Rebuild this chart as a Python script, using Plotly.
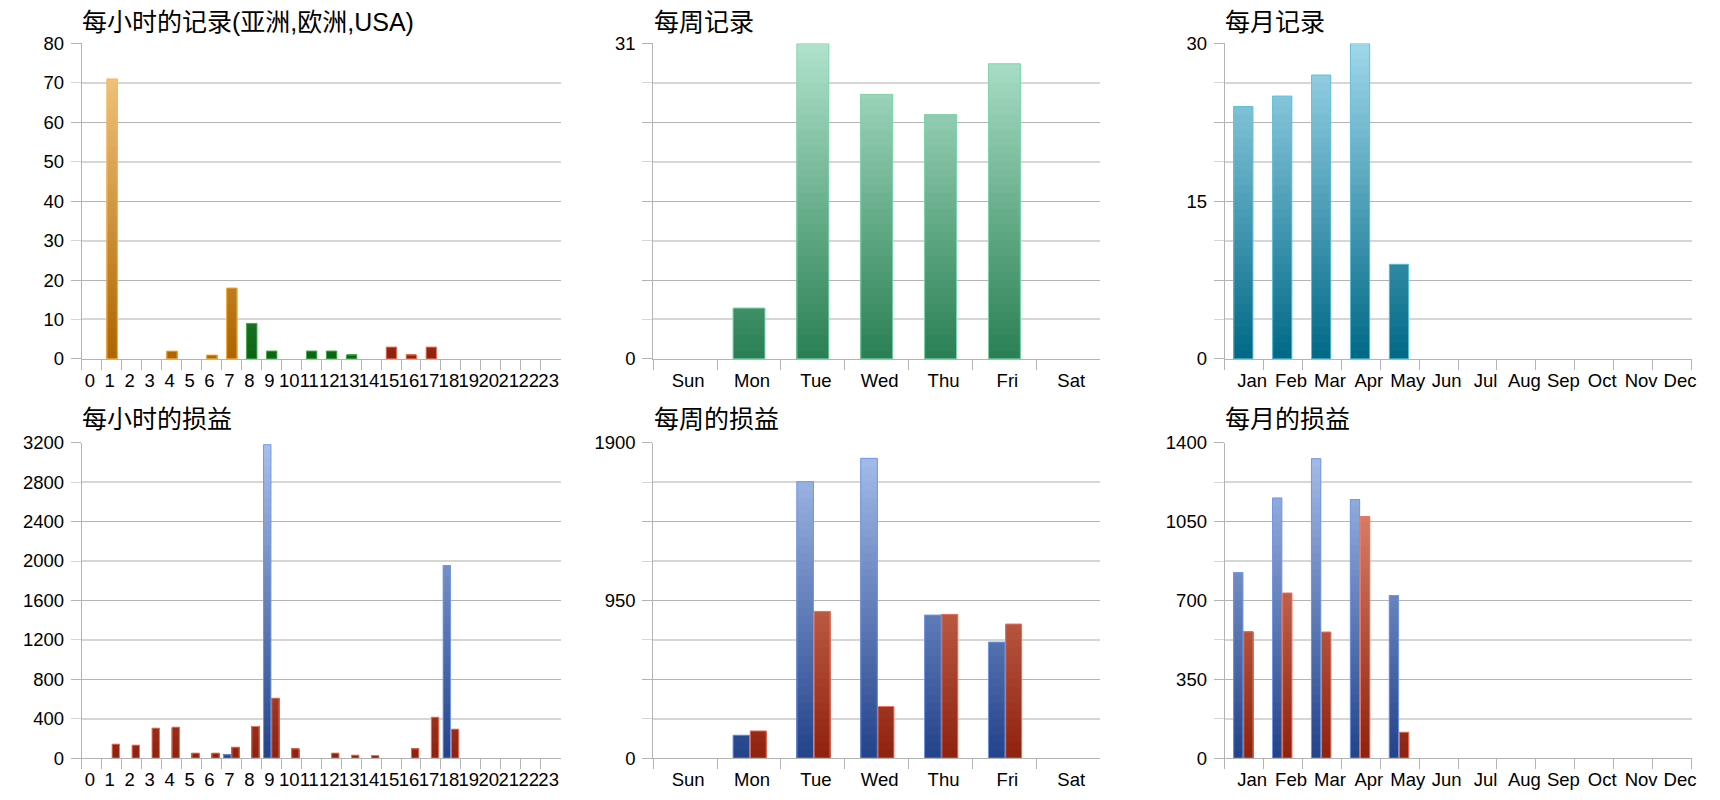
import numpy as np
import plotly.graph_objects as go

# categories
hours = [str(h) for h in range(24)]
weekdays = ['Sun', 'Mon', 'Tue', 'Wed', 'Thu', 'Fri', 'Sat']
months = ['Jan', 'Feb', 'Mar', 'Apr', 'May', 'Jun',
          'Jul', 'Aug', 'Sep', 'Oct', 'Nov', 'Dec']

# records per hour, split by region (Asia / Europe / USA)
hour_rec_asia = [0, 71, 0, 0, 2, 0, 1, 18, 0, 0, 0, 0,
                 0, 0, 0, 0, 0, 0, 0, 0, 0, 0, 0, 0]
hour_rec_europe = [0, 0, 0, 0, 0, 0, 0, 0, 9, 2, 0, 2,
                   2, 1, 0, 0, 0, 0, 0, 0, 0, 0, 0, 0]
hour_rec_usa = [0, 0, 0, 0, 0, 0, 0, 0, 0, 0, 0, 0,
                0, 0, 0, 3, 1, 3, 0, 0, 0, 0, 0, 0]
week_rec = [0, 5, 31, 26, 24, 29, 0]
month_rec = [24, 25, 27, 30, 9, 0, 0, 0, 0, 0, 0, 0]

# profit (blue) / loss (red)
hour_profit = [0, 0, 0, 0, 0, 0, 0, 34, 0, 3180, 0, 0,
               0, 0, 0, 0, 0, 0, 1955, 0, 0, 0, 0, 0]
hour_loss = [0, 142, 132, 304, 314, 51, 51, 111, 321, 608, 95, 0,
             51, 30, 27, 0, 95, 415, 294, 0, 0, 0, 0, 0]
week_profit = [0, 138, 1665, 1806, 862, 699, 0]
week_loss = [0, 164, 884, 311, 866, 808, 0]
month_profit = [824, 1155, 1329, 1148, 722, 0, 0, 0, 0, 0, 0, 0]
month_loss = [561, 733, 560, 1072, 115, 0, 0, 0, 0, 0, 0, 0]

# y tick labels
hour_rec_ticks = [0, 10, 20, 30, 40, 50, 60, 70, 80]
week_rec_ticks = [0, 31]
month_rec_ticks = [0, 15, 30]
hour_pnl_ticks = [0, 400, 800, 1200, 1600, 2000, 2400, 2800, 3200]
week_pnl_ticks = [0, 950, 1900]
month_pnl_ticks = [0, 350, 700, 1050, 1400]

DARK = '#b3b3b3'
LIGHT = '#d6d6d6'
CJK = 'Liberation Sans, Noto Sans CJK SC'

# (bottom colour, top colour, edge colour)
ORANGE = ((173, 101, 0), (247, 204, 138), '#fdb54a')
GREEN = ((10, 100, 20), (130, 205, 130), '#4cb050')
RED = ((142, 34, 14), (236, 152, 128), '#ee7760')
BLUE = ((34, 66, 138), (170, 193, 238), '#7398e6')
MINT = ((41, 127, 84), (176, 227, 203), '#80d6aa')
TEAL = ((0, 104, 134), (160, 216, 235), '#62c2dc')

# panel columns / rows (paper fractions)
COLS = [[0.0477, 0.3269], [0.3809, 0.6415], [0.7141, 0.9863]]
ROWS = [[0.5534, 0.9583], [0.0409, 0.4458]]
TITLE_Y = [0.9865, 0.4768]


def lerp(c0, c1, t):
    return 'rgb(%d,%d,%d)' % tuple(round(a + (b - a) * t) for a, b in zip(c0, c1))


def gradient_bars(fig, cats, values, ymax, colours, offset, width, xa, ya, steps=40):
    # vertical gradient faked with overlapping bars clipped at decreasing levels
    bottom, top, edge = colours
    vals = np.asarray(values, dtype=float)
    vals[vals == 0] = np.nan  # empty categories draw nothing
    for k in range(steps):
        level = ymax * (steps - k) / steps
        t = (steps - k - 0.5) / steps
        fig.add_trace(go.Bar(x=cats, y=np.minimum(vals, level), offset=offset, width=width,
                             marker=dict(color=lerp(bottom, top, t), line_width=0),
                             xaxis=xa, yaxis=ya, hoverinfo='skip', showlegend=False))
    fig.add_trace(go.Bar(x=cats, y=vals, offset=offset, width=width,
                         marker=dict(color='rgba(0,0,0,0)', line=dict(color=edge, width=1)),
                         xaxis=xa, yaxis=ya, showlegend=False))


panels = [
    dict(title='每小时的记录(亚洲,欧洲,USA)', cats=hours, ymax=80, ticks=hour_rec_ticks,
         col=0, row=0, shift=-2,
         series=[(hour_rec_asia, ORANGE, -0.24, 0.52),
                 (hour_rec_europe, GREEN, -0.24, 0.52),
                 (hour_rec_usa, RED, -0.24, 0.52)]),
    dict(title='每周记录', cats=weekdays, ymax=31, ticks=week_rec_ticks,
         col=1, row=0, shift=3,
         series=[(week_rec, MINT, -0.25, 0.5)]),
    dict(title='每月记录', cats=months, ymax=30, ticks=month_rec_ticks,
         col=2, row=0, shift=8,
         series=[(month_rec, TEAL, -0.267, 0.494)]),
    dict(title='每小时的损益', cats=hours, ymax=3200, ticks=hour_pnl_ticks,
         col=0, row=1, shift=-2,
         series=[(hour_profit, BLUE, -0.39, 0.37),
                 (hour_loss, RED, 0.02, 0.37)]),
    dict(title='每周的损益', cats=weekdays, ymax=1900, ticks=week_pnl_ticks,
         col=1, row=1, shift=3,
         series=[(week_profit, BLUE, -0.25, 0.26),
                 (week_loss, RED, 0.02, 0.25)]),
    dict(title='每月的损益', cats=months, ymax=1400, ticks=month_pnl_ticks,
         col=2, row=1, shift=8,
         series=[(month_profit, BLUE, -0.27, 0.24),
                 (month_loss, RED, -0.01, 0.24)]),
]

fig = go.Figure()
layout = dict(width=1720, height=800, margin=dict(l=0, r=0, t=0, b=0),
              plot_bgcolor='white', paper_bgcolor='white', barmode='overlay',
              showlegend=False, font=dict(family='Liberation Sans', size=18.5, color='black'),
              annotations=[])

for i, p in enumerate(panels, start=1):
    xa = 'x' if i == 1 else 'x%d' % i
    ya = 'y' if i == 1 else 'y%d' % i
    yo = 'y%d' % (i + 6)
    ymax = p['ymax']
    xd = COLS[p['col']]
    yd = ROWS[p['row']]

    for values, colours, offset, width in p['series']:
        gradient_bars(fig, p['cats'], values, ymax, colours, offset, width, xa, ya)
    # empty trace so the overlay axis (light grid lines) is drawn
    fig.add_trace(go.Scatter(x=[], y=[], xaxis=xa, yaxis=yo, showlegend=False))

    grid = [ymax * k / 8 for k in range(9)]

    def label(v):
        for t in p['ticks']:
            if abs(t - v) < 1e-6:
                return str(t)
        return ''

    dark = grid[0::2]
    light = grid[1::2]

    layout['xaxis' if i == 1 else 'xaxis%d' % i] = dict(
        domain=xd, anchor=ya, type='category', categoryorder='array',
        categoryarray=p['cats'], range=[-0.5, len(p['cats']) - 0.5],
        tickmode='linear', tick0=0, dtick=1, tickson='boundaries',
        ticks='outside', ticklen=10, tickcolor=DARK, showline=True, linecolor=DARK,
        showgrid=False, tickangle=0, ticklabelshift=p['shift'],
        ticklabelstandoff=5, fixedrange=True)
    layout['yaxis' if i == 1 else 'yaxis%d' % i] = dict(
        domain=yd, anchor=xa, range=[0, ymax], tickmode='array',
        tickvals=dark, ticktext=[label(v) for v in dark],
        showgrid=True, gridcolor=DARK, gridwidth=1, ticks='outside', ticklen=10,
        tickcolor=DARK, showline=True, linecolor=DARK, zeroline=False,
        ticklabelstandoff=3, fixedrange=True)
    layout['yaxis%d' % (i + 6)] = dict(
        overlaying=ya, anchor=xa, side='left', range=[0, ymax], tickmode='array',
        tickvals=light, ticktext=[label(v) for v in light],
        showgrid=True, gridcolor=LIGHT, gridwidth=2, ticks='outside', ticklen=10,
        tickcolor=LIGHT, showline=False, zeroline=False,
        ticklabelstandoff=3, fixedrange=True)

    layout['annotations'].append(dict(
        text=p['title'], x=xd[0] - 0.0009, y=TITLE_Y[p['row']],
        xref='paper', yref='paper', xanchor='left', yanchor='middle',
        showarrow=False, font=dict(family=CJK, size=25, color='black')))

fig.update_layout(layout)
fig.write_html("out.html", config={'displayModeBar': False},
               post_script="document.body.style.margin='0';")
